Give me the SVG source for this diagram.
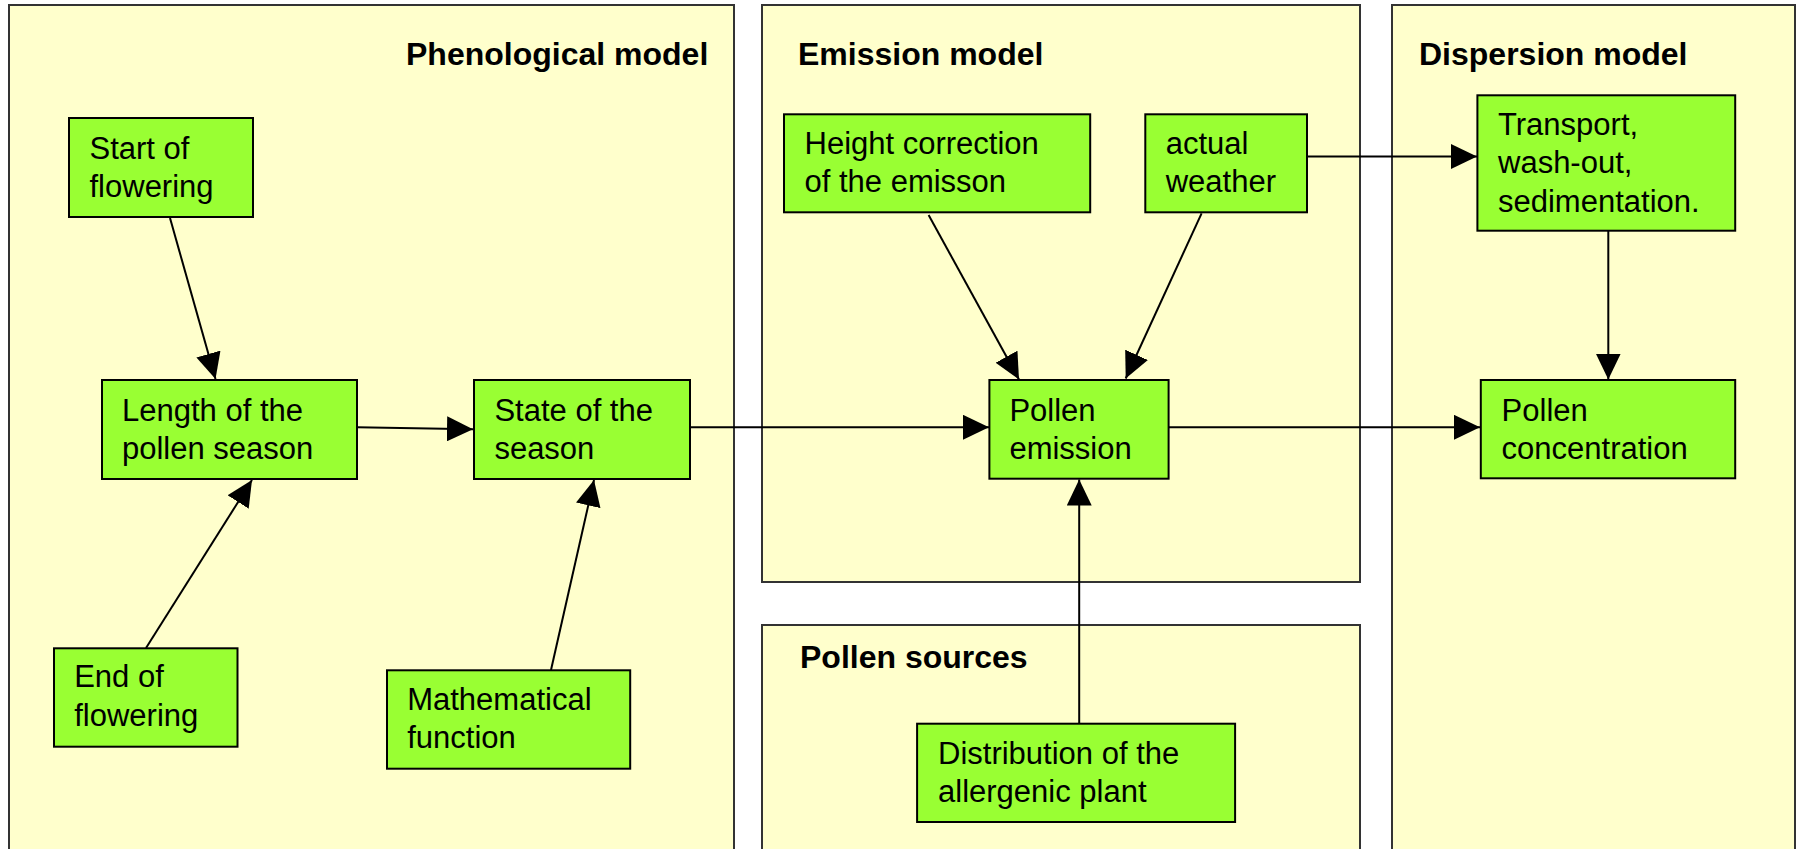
<svg xmlns="http://www.w3.org/2000/svg" width="1798" height="849" viewBox="0 0 1798 849">
<style>
.panel{fill:#FFFFCC;stroke:#333333;stroke-width:2}
.node{fill:#99FF33;stroke:#000000;stroke-width:2}
.title{font-family:"Liberation Sans",Arial,sans-serif;font-weight:bold;font-size:32px;fill:#000}
.lbl{font-family:"Liberation Sans",Arial,sans-serif;font-size:31px;fill:#000}
.conn{stroke:#000;stroke-width:2;fill:none;marker-end:url(#arr)}
</style>
<defs>
<marker id="arr" markerUnits="userSpaceOnUse" markerWidth="27" markerHeight="25" refX="26" refY="12.5" orient="auto">
<path d="M0,0 L26,12.5 L0,25 z" fill="#000"/>
</marker>
</defs>
<rect width="1798" height="849" fill="#FFFFFF"/>
<g id="panels">
<g id="panel-phenological"><rect class="panel" x="9" y="5" width="725" height="860"/><text class="title" x="406" y="65">Phenological model</text></g>
<g id="panel-emission"><rect class="panel" x="762" y="5" width="598" height="577"/><text class="title" x="798" y="65">Emission model</text></g>
<g id="panel-sources"><rect class="panel" x="762" y="625" width="598" height="240"/><text class="title" x="800" y="668">Pollen sources</text></g>
<g id="panel-dispersion"><rect class="panel" x="1392" y="5" width="403" height="860"/><text class="title" x="1419" y="65">Dispersion model</text></g>
</g>
<g id="connectors">
<line class="conn" x1="170" y1="218" x2="215.5" y2="379"/>
<line class="conn" x1="146" y1="648" x2="252" y2="480"/>
<line class="conn" x1="551" y1="670" x2="594" y2="480"/>
<line class="conn" x1="357" y1="427.3" x2="473" y2="429.3"/>
<line class="conn" x1="690" y1="427.3" x2="989" y2="427.3"/>
<line class="conn" x1="1168.6" y1="427.3" x2="1480" y2="427.3"/>
<line class="conn" x1="1307" y1="156.5" x2="1477" y2="156.5"/>
<line class="conn" x1="1608.3" y1="230.7" x2="1608.3" y2="379.5"/>
<line class="conn" x1="928.6" y1="215" x2="1019" y2="379.5"/>
<line class="conn" x1="1201.6" y1="213.3" x2="1125.7" y2="378.5"/>
<line class="conn" x1="1079.2" y1="723.7" x2="1079.2" y2="479.5"/>
</g>
<g id="node-start"><rect class="node" x="69" y="118" width="184" height="99"/><text class="lbl" x="89.5" y="159">Start of</text><text class="lbl" x="89.5" y="196.5">flowering</text></g>
<g id="node-length"><rect class="node" x="102" y="380" width="255" height="99"/><text class="lbl" x="122" y="420.7">Length of the</text><text class="lbl" x="122" y="459.3">pollen season</text></g>
<g id="node-state"><rect class="node" x="474" y="380" width="216" height="99"/><text class="lbl" x="494.4" y="420.7">State of the</text><text class="lbl" x="494.4" y="459.3">season</text></g>
<g id="node-end"><rect class="node" x="54" y="648.3" width="183.5" height="98.4"/><text class="lbl" x="74.2" y="687.3">End of</text><text class="lbl" x="74.2" y="726">flowering</text></g>
<g id="node-math"><rect class="node" x="387" y="670.3" width="243.2" height="98.4"/><text class="lbl" x="407.2" y="710">Mathematical</text><text class="lbl" x="407.2" y="748.3">function</text></g>
<g id="node-height"><rect class="node" x="784" y="114.3" width="306.2" height="98"/><text class="lbl" x="804.5" y="154">Height correction</text><text class="lbl" x="804.5" y="191.7">of the emisson</text></g>
<g id="node-weather"><rect class="node" x="1145.3" y="114.3" width="161.7" height="98"/><text class="lbl" x="1165.7" y="154">actual</text><text class="lbl" x="1165.7" y="191.7">weather</text></g>
<g id="node-emission"><rect class="node" x="989.4" y="380" width="179.2" height="98.7"/><text class="lbl" x="1009.4" y="420.7">Pollen</text><text class="lbl" x="1009.4" y="459.3">emission</text></g>
<g id="node-distribution"><rect class="node" x="917.1" y="723.7" width="318" height="98.3"/><text class="lbl" x="938" y="764">Distribution of the</text><text class="lbl" x="938" y="802.3">allergenic plant</text></g>
<g id="node-transport"><rect class="node" x="1477.4" y="95.3" width="257.8" height="135.4"/><text class="lbl" x="1498" y="135">Transport,</text><text class="lbl" x="1498" y="173.3">wash-out,</text><text class="lbl" x="1498" y="211.7">sedimentation.</text></g>
<g id="node-concentration"><rect class="node" x="1480.8" y="380" width="254.4" height="98.3"/><text class="lbl" x="1501.6" y="420.7">Pollen</text><text class="lbl" x="1501.6" y="459">concentration</text></g>
</svg>
